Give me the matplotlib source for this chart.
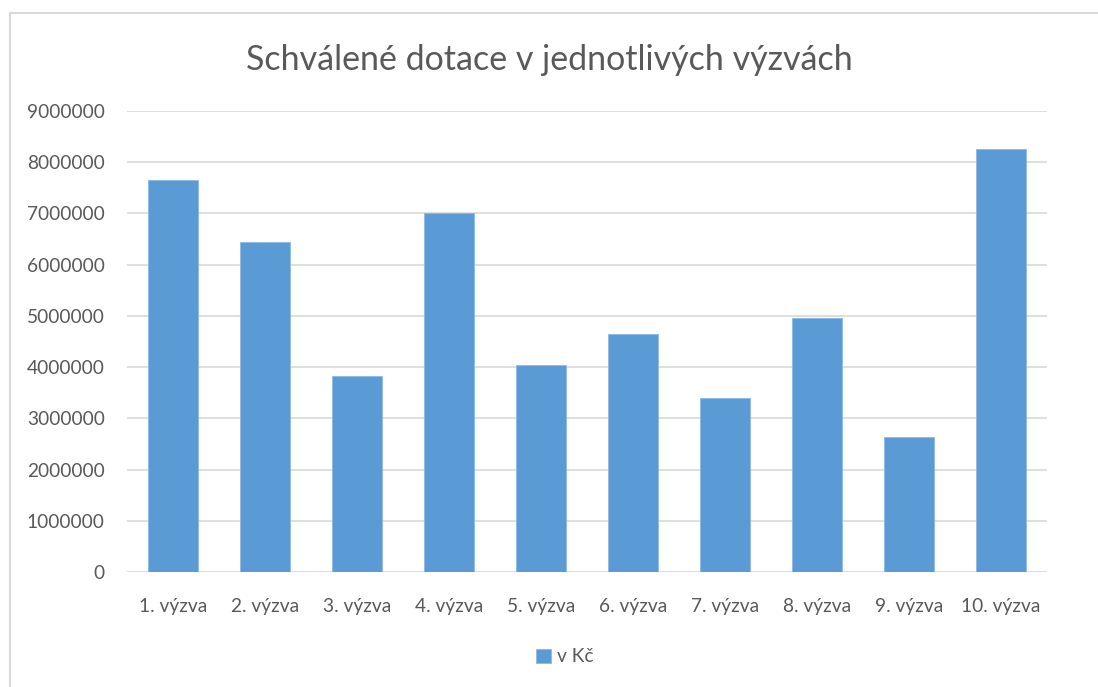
import matplotlib.pyplot as plt
import numpy as np

categories = ['1. výzva', '2. výzva', '3. výzva', '4. výzva', '5. výzva',
              '6. výzva', '7. výzva', '8. výzva', '9. výzva', '10. výzva']
values = [7650000, 6440000, 3830000, 7010000, 4050000,
          4650000, 3390000, 4950000, 2640000, 8250000]
yticks = [0, 1000000, 2000000, 3000000, 4000000, 5000000,
          6000000, 7000000, 8000000, 9000000]
series_name = 'v Kč'
title = 'Schválené dotace v jednotlivých výzvách'

BAR = '#5B9BD5'
TEXT = '#595959'
GRID = '#D9D9D9'

plt.rcParams['font.family'] = ['Lato', 'DejaVu Sans']

W, H = 1098, 687
fig = plt.figure(figsize=(W / 100, H / 100), dpi=100)
ax = fig.add_axes([127 / W, 1 - 572 / H, (1047 - 127) / W, (572 - 111) / H])

x = np.arange(len(categories))
ax.bar(x, values, width=0.545, color=BAR, edgecolor='#8DB9E6', linewidth=0.6,
       label=series_name, zorder=2)

ax.set_xlim(-0.5, len(categories) - 0.5)
ax.set_ylim(0, 9000000)
ax.set_yticks(yticks)
ax.set_yticklabels([str(v) for v in yticks])
ax.set_xticks(x)
ax.set_xticklabels(categories)
ax.tick_params(axis='both', length=0, colors=TEXT, labelsize=13.8)
ax.tick_params(axis='y', pad=16)
ax.tick_params(axis='x', pad=19)
ax.yaxis.grid(True, color=GRID, linewidth=1.2, zorder=0)
for s in ax.spines.values():
    s.set_visible(False)

fig.text(0.5, 1 - 60 / H, title, ha='center', va='center',
         fontsize=24.5, color=TEXT)

leg = fig.legend(loc='center', bbox_to_anchor=(565 / W, 1 - 657 / H),
                 frameon=False, fontsize=13.8, handlelength=0.75,
                 handleheight=0.75, handletextpad=0.35)
for t in leg.get_texts():
    t.set_color(TEXT)

# outer chart frame (top and left visible)
fig.add_artist(plt.Line2D([10 / W, 10 / W], [0, 1 - 13 / H],
                          transform=fig.transFigure, color=GRID, linewidth=1.5))
fig.add_artist(plt.Line2D([10 / W, 1], [1 - 13 / H, 1 - 13 / H],
                          transform=fig.transFigure, color=GRID, linewidth=1.5))

fig.savefig('out.png', dpi=100, facecolor='white')
